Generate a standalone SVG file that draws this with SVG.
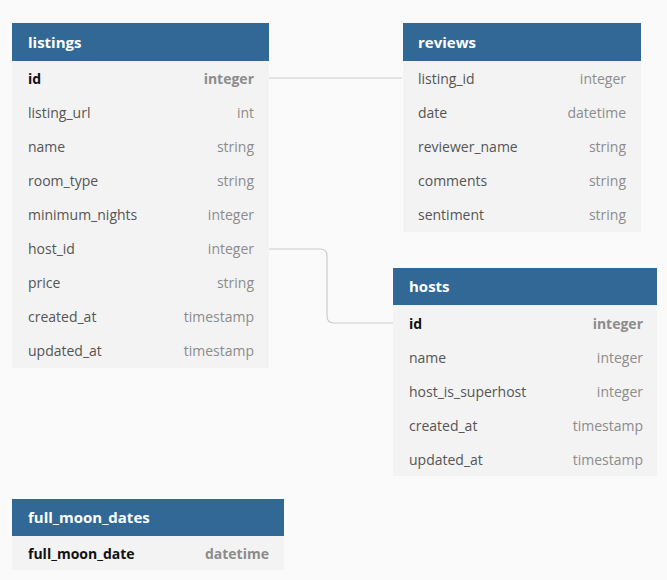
<svg xmlns="http://www.w3.org/2000/svg" width="667" height="580" viewBox="0 0 667 580">
<style>
text{font-family:"Open Sans","Liberation Sans",sans-serif;font-size:14px;dominant-baseline:central}
.hdr{fill:#316896}
.body{fill:#f3f3f3}
.ttl{fill:#ffffff;font-size:15px;font-weight:bold}
.n{fill:#555555}
.t{fill:#8c8c8c;text-anchor:end}
.pk{fill:#111111;font-weight:bold}
.pkt{fill:#8c8c8c;font-weight:bold;text-anchor:end}
.conn{fill:none;stroke:#cccccc;stroke-width:1.2}
</style>
<rect width="667" height="580" fill="#fafafa"/>
<g id="connectors">
<path class="conn" d="M269 78 H402"/>
<path class="conn" d="M269 249 H320 Q327 249 327 256 V316 Q327 323 334 323 H393"/>
</g>
<g id="listings">
<rect class="body" x="12" y="61" width="257" height="307"/>
<rect class="hdr" x="12" y="23" width="257" height="38"/>
<text class="ttl" x="28" y="42">listings</text>
<text class="pk" x="28" y="78">id</text><text class="pkt" x="254" y="78">integer</text>
<text class="n" x="28" y="112">listing_url</text><text class="t" x="254" y="112">int</text>
<text class="n" x="28" y="146">name</text><text class="t" x="254" y="146">string</text>
<text class="n" x="28" y="180">room_type</text><text class="t" x="254" y="180">string</text>
<text class="n" x="28" y="214">minimum_nights</text><text class="t" x="254" y="214">integer</text>
<text class="n" x="28" y="248">host_id</text><text class="t" x="254" y="248">integer</text>
<text class="n" x="28" y="282">price</text><text class="t" x="254" y="282">string</text>
<text class="n" x="28" y="316">created_at</text><text class="t" x="254" y="316">timestamp</text>
<text class="n" x="28" y="350">updated_at</text><text class="t" x="254" y="350">timestamp</text>
</g>
<g id="reviews">
<rect class="body" x="403" y="61" width="238" height="171"/>
<rect class="hdr" x="403" y="23" width="238" height="38"/>
<text class="ttl" x="418" y="42">reviews</text>
<text class="n" x="418" y="78">listing_id</text><text class="t" x="626" y="78">integer</text>
<text class="n" x="418" y="112">date</text><text class="t" x="626" y="112">datetime</text>
<text class="n" x="418" y="146">reviewer_name</text><text class="t" x="626" y="146">string</text>
<text class="n" x="418" y="180">comments</text><text class="t" x="626" y="180">string</text>
<text class="n" x="418" y="214">sentiment</text><text class="t" x="626" y="214">string</text>
</g>
<g id="hosts">
<rect class="body" x="393" y="305" width="264" height="171"/>
<rect class="hdr" x="393" y="268" width="264" height="37"/>
<text class="ttl" x="409" y="286">hosts</text>
<text class="pk" x="409" y="323">id</text><text class="pkt" x="643" y="323">integer</text>
<text class="n" x="409" y="357">name</text><text class="t" x="643" y="357">integer</text>
<text class="n" x="409" y="391">host_is_superhost</text><text class="t" x="643" y="391">integer</text>
<text class="n" x="409" y="425">created_at</text><text class="t" x="643" y="425">timestamp</text>
<text class="n" x="409" y="459">updated_at</text><text class="t" x="643" y="459">timestamp</text>
</g>
<g id="full_moon_dates">
<rect class="body" x="12" y="536" width="272" height="34"/>
<rect class="hdr" x="12" y="499" width="272" height="37"/>
<text class="ttl" x="28" y="517">full_moon_dates</text>
<text class="pk" x="28" y="553">full_moon_date</text><text class="pkt" x="269" y="553">datetime</text>
</g>
</svg>
